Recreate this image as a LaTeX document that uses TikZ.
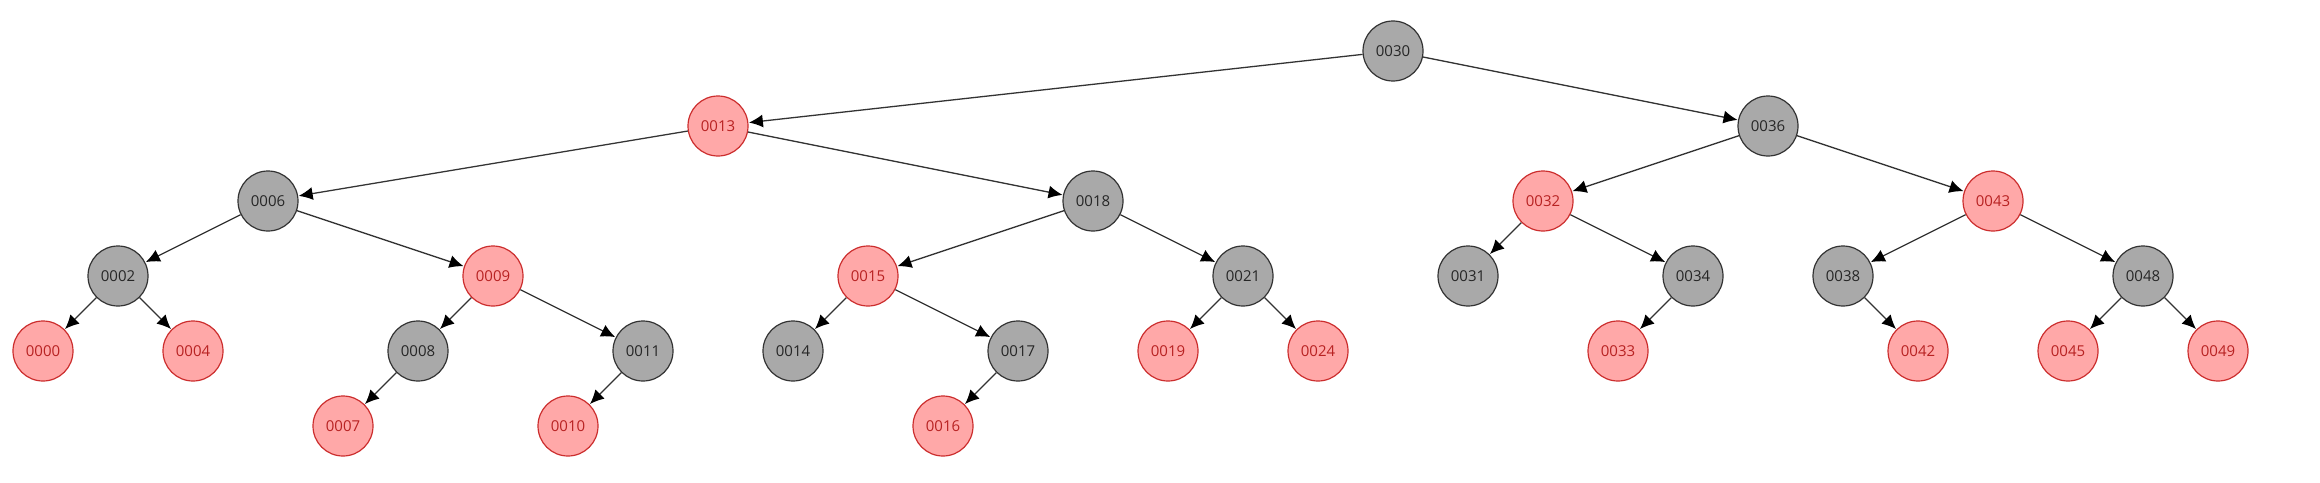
\documentclass[tikz,border=0pt]{standalone}
\usepackage{fontspec}
\setmainfont{Open Sans}
\usetikzlibrary{arrows.meta}

\definecolor{blkfill}{HTML}{A9A9A9}
\definecolor{blkline}{HTML}{333333}
\definecolor{redfill}{HTML}{FFA8A8}
\definecolor{redline}{HTML}{CC2E2E}
\definecolor{redtext}{HTML}{B82222}

\tikzset{
  blknode/.style={circle, draw=blkline, fill=blkfill, line width=1.2pt,
    minimum size=60pt, inner sep=0pt, text=black!85, font=\fontsize{15}{15}\selectfont},
  rednode/.style={blknode, draw=redline, fill=redfill, text=redtext},
  link/.style={draw=blkline, line width=1.3pt, -{Latex[length=14pt,width=13pt,color=black]}, shorten >=0.5pt}
}

\begin{document}
\begin{tikzpicture}[x=75pt, y=-75pt]
\useasboundingbox (-43pt,51pt) rectangle (2277pt,-431pt);
% Nodes
% level 0 and 1
\node[blknode](n30) at (18,0) {0030};
\node[rednode](n13) at (9,1) {0013};
\node[blknode](n36) at (23,1) {0036};
% level 2
\node[blknode](n06) at (3,2) {0006};
\node[blknode](n18) at (14,2) {0018};
\node[rednode](n32) at (20,2) {0032};
\node[rednode](n43) at (26,2) {0043};
% level 3
\node[blknode](n02) at (1,3) {0002};
\node[rednode](n09) at (6,3) {0009};
\node[rednode](n15) at (11,3) {0015};
\node[blknode](n21) at (16,3) {0021};
\node[blknode](n31) at (19,3) {0031};
\node[blknode](n34) at (22,3) {0034};
\node[blknode](n38) at (24,3) {0038};
\node[blknode](n48) at (28,3) {0048};
% level 4
\node[rednode](n00) at (0,4) {0000};
\node[rednode](n04) at (2,4) {0004};
\node[blknode](n08) at (5,4) {0008};
\node[blknode](n11) at (8,4) {0011};
\node[blknode](n14) at (10,4) {0014};
\node[blknode](n17) at (13,4) {0017};
\node[rednode](n19) at (15,4) {0019};
\node[rednode](n24) at (17,4) {0024};
\node[rednode](n33) at (21,4) {0033};
\node[rednode](n42) at (25,4) {0042};
\node[rednode](n45) at (27,4) {0045};
\node[rednode](n49) at (29,4) {0049};
% level 5
\node[rednode](n07) at (4,5) {0007};
\node[rednode](n10) at (7,5) {0010};
\node[rednode](n16) at (12,5) {0016};

% Edges
\foreach \a/\b in {30/13, 30/36, 13/06, 13/18, 36/32, 36/43,
  06/02, 06/09, 18/15, 18/21, 32/31, 32/34, 43/38, 43/48,
  02/00, 02/04, 09/08, 09/11, 15/14, 15/17, 21/19, 21/24,
  34/33, 38/42, 48/45, 48/49, 08/07, 11/10, 17/16}
  \path[link] (n\a) -- (n\b);

\end{tikzpicture}
\end{document}
